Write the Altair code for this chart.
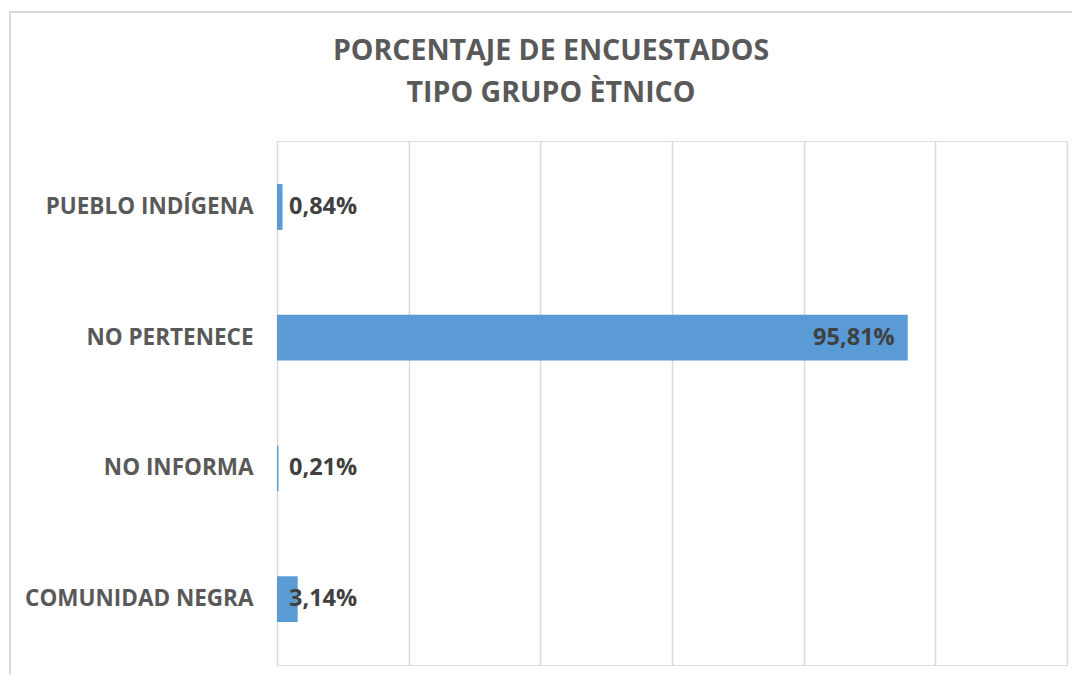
import altair as alt
import pandas as pd

categories = ["PUEBLO INDÍGENA", "NO PERTENECE", "NO INFORMA", "COMUNIDAD NEGRA"]
values = [0.84, 95.81, 0.21, 3.14]
labels = ["0,84%", "95,81%", "0,21%", "3,14%"]
x_ticks = [0, 20, 40, 60, 80, 100, 120]
title_lines = ["PORCENTAJE DE ENCUESTADOS", "TIPO GRUPO ÈTNICO"]

df = pd.DataFrame({"cat": categories, "val": values, "lab": labels})

FONT = "Open Sans"
x = alt.X("val:Q", scale=alt.Scale(domain=[0, 120], nice=False),
          axis=alt.Axis(values=x_ticks, labels=False, ticks=False, domain=False,
                        grid=True, gridColor="#d9d9d9", gridWidth=1.5, title=None))
y = alt.Y("cat:N", sort=categories,
          scale=alt.Scale(paddingInner=0.65, paddingOuter=0.33),
          axis=alt.Axis(title=None, ticks=False, domain=False, labelPadding=24,
                        labelFont=FONT, labelFontSize=22.5, labelFontWeight="bold",
                        labelColor="#595959", labelLimit=400))

base = alt.Chart(df)
bars = base.mark_bar(color="#5B9BD5").encode(x=x, y=y)
small = base.transform_filter("datum.val < 50").mark_text(
    align="left", baseline="middle", dx=12, font=FONT, fontSize=23.5,
    fontWeight="bold", color="#404040").encode(x=alt.datum(0), y=y, text="lab:N")
big = base.transform_filter("datum.val >= 50").mark_text(
    align="right", baseline="middle", dx=-13, font=FONT, fontSize=23.5,
    fontWeight="bold", color="#404040").encode(x=x, y=y, text="lab:N")

border = alt.Chart(pd.DataFrame({"a": [0]})).mark_rect(
    fill=None, stroke="#d9d9d9", strokeWidth=2, clip=False).encode(
    x=alt.value(-267), x2=alt.value(810), y=alt.value(-129), y2=alt.value(535))

tdf = pd.DataFrame({"t": ["\n".join(title_lines)]})
title = alt.Chart(tdf).mark_text(
    font=FONT, fontSize=28.5, fontWeight="bold", color="#595959",
    align="center", baseline="middle", lineBreak="\n", lineHeight=42).encode(
    text="t:N", x=alt.value(274), y=alt.value(-90))

chart = alt.layer(border, bars, small, big, title).properties(
    width=790, height=524,
    autosize=alt.AutoSizeParams(type="none"),
    padding={"left": 269, "top": 133, "right": 5, "bottom": 10},
).configure_view(stroke=None).configure(background="white")

chart.save("out.html", embed_options={"renderer": "svg", "actions": False})
